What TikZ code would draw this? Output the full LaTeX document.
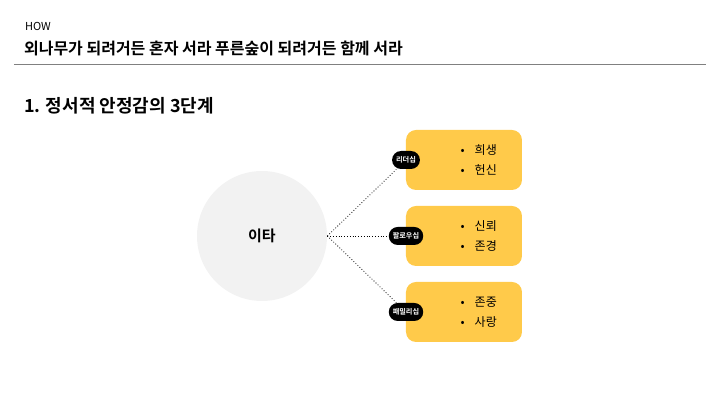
\documentclass[tikz,border=0pt]{standalone}
\usepackage{fontspec}
\setmainfont{Noto Sans CJK KR}
\newfontfamily\krbold[FakeBold=0]{Noto Sans CJK KR Bold}
\usetikzlibrary{positioning}
\definecolor{boxyellow}{HTML}{FFCA4A}
\definecolor{circgray}{HTML}{F2F2F2}
\begin{document}
\begin{tikzpicture}[x=0.5pt,y=-0.5pt]
\tikzset{
    item/.style={%
        fill=boxyellow,
        rectangle,
        rounded corners=5pt,
        minimum height=30pt,
        minimum width=58pt
        },
    tag/.style={%
        fill=black, text=white,
        rectangle,
        rounded corners=4.5pt,
        minimum height=9pt,
        inner sep=2pt,
        font=\krbold\fontsize{3.6}{4}\selectfont
        },
    link/.style={densely dotted, thin},
    bul/.style={anchor=west, font=\fontsize{6}{7}\selectfont},
}
\useasboundingbox (0,0) rectangle (720,405);
%%%HEADER
\node[anchor=west, font=\fontsize{5.5}{6}\selectfont] (how) at (18,26) {HOW};
\node[anchor=west, font=\krbold\fontsize{8}{9}\selectfont] (title) at (17,48) {외나무가 되려거든 혼자 서라 푸른숲이 되려거든 함께 서라};
\draw[gray, thin] (14,64) -- (706,64);
\node[anchor=west, font=\krbold\fontsize{9}{10}\selectfont] (sub) at (17,106) {1. 정서적 안정감의 3단계};
%%%CENTER
\node[circle, fill=circgray, minimum size=65pt, font=\krbold\fontsize{7.5}{8}\selectfont] (ita) at (262,236) {이타};
%%%BOXES
\node[item] (b1) at (464,160) {};
\node[item] (b2) at (464,236) {};
\node[item] (b3) at (464,312) {};
\foreach \b/\p/\q in {b1/헌신/희생, b2/존경/신뢰, b3/사랑/존중}{
  \node[bul] at ([xshift=24pt,yshift=-5pt]\b.west) {•\hspace{5pt}\p};
  \node[bul] at ([xshift=24pt,yshift=5pt]\b.west) {•\hspace{5pt}\q};
}
%%%TAGS
\node[tag] (t1) at (406,160) {리더십};
\node[tag] (t2) at (406,236) {팔로우십};
\node[tag] (t3) at (406,312) {패밀리십};
\draw[link] (ita.east) -- (t1);
\draw[link] (ita.east) -- (t2);
\draw[link] (ita.east) -- (t3);
\end{tikzpicture}
\end{document}
